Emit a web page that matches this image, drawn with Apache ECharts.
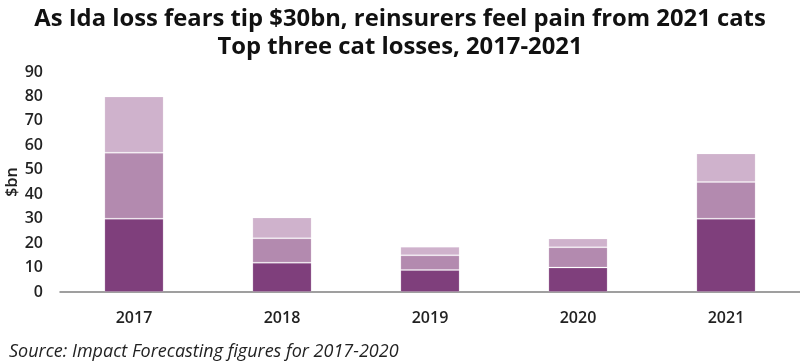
<!DOCTYPE html>
<html>
<head>
<meta charset="utf-8">
<script src="https://cdn.jsdelivr.net/npm/echarts@6/dist/echarts.min.js"></script>
<style>html,body{margin:0;padding:0;background:#fff}#c{width:800px;height:363px}</style>
</head>
<body>
<div id="c"></div>
<script>
var categories = ['2017', '2018', '2019', '2020', '2021'];
var largestLoss = [30, 12, 9, 10, 30];
var secondLoss = [27, 10, 6, 8.3, 15];
var thirdLoss = [23, 8.5, 3.5, 3.6, 11.7];
var yTicks = [0, 10, 20, 30, 40, 50, 60, 70, 80, 90];

var font = '"Open Sans", "Noto Sans", sans-serif';
var chart = echarts.init(document.getElementById('c'));
function bar(name, data, color) {
  return {
    name: name, type: 'bar', stack: 'total', data: data, barWidth: '40%',
    itemStyle: { color: color, borderColor: 'rgba(255,255,255,0.18)', borderWidth: 1 },
    emphasis: { disabled: true }
  };
}
chart.setOption({
  animation: false,
  title: [
    { text: 'As Ida loss fears tip $30bn, reinsurers feel pain from 2021 cats\nTop three cat losses, 2017-2021',
      left: 'center', top: 0,
      textStyle: { fontFamily: font, fontWeight: 'bold', fontSize: 23.8, color: '#111', lineHeight: 28 } },
    { text: 'Source: Impact Forecasting figures for 2017-2020', left: 4, top: 338,
      textStyle: { fontFamily: font, fontStyle: 'italic', fontWeight: 'normal', fontSize: 18, color: '#222' } }
  ],
  grid: { left: 60, right: 0, top: 72, bottom: 71, containLabel: false, outerBoundsMode: 'none' },
  xAxis: {
    type: 'category', data: categories,
    axisLine: { lineStyle: { color: '#808080', width: 1.5 } },
    axisTick: { show: false },
    axisLabel: { fontFamily: font, fontSize: 16, color: '#222', fontWeight: 600, margin: 18 }
  },
  yAxis: {
    type: 'value', min: 0, max: 90, interval: 10,
    name: '$bn', nameLocation: 'middle', nameGap: 40, nameRotate: 90, nameMoveOverlap: false,
    nameTextStyle: { fontFamily: font, fontSize: 16, color: '#222', fontWeight: 600 },
    axisLine: { show: false }, axisTick: { show: false }, splitLine: { show: false },
    axisLabel: { fontFamily: font, fontSize: 16, color: '#222', fontWeight: 600, margin: 17,
      formatter: function (v) { return yTicks.indexOf(v) >= 0 ? String(v) : ''; } }
  },
  series: [
    bar('Largest loss', largestLoss, '#7f3f7c'),
    bar('Second loss', secondLoss, '#b38aaf'),
    bar('Third loss', thirdLoss, '#cfb2cc')
  ]
});
</script>
</body>
</html>
